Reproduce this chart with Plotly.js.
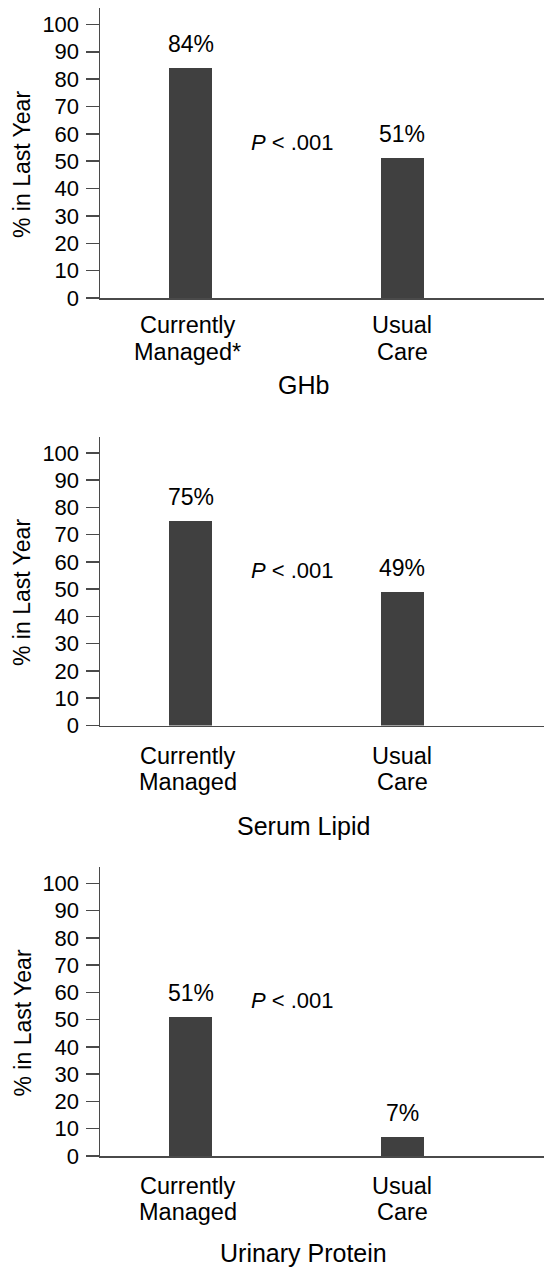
<!DOCTYPE html>
<html>
<head>
<meta charset="utf-8">
<script src="https://cdn.plot.ly/plotly-3.0.1.min.js"></script>
<style>html,body{margin:0;padding:0;background:#fff;overflow:hidden;}#chart{width:544px;height:1267px;}</style>
</head>
<body>
<div id="chart"></div>
<script>
// ---- data ----
const categories = ['Currently Managed', 'Usual Care'];
const tickLinesFirst = [['Currently', 'Managed*'], ['Usual', 'Care']];
const tickLinesOther = [['Currently', 'Managed'], ['Usual', 'Care']];
const panelTitles = ['GHb', 'Serum Lipid', 'Urinary Protein'];
const yAxisTitle = '% in Last Year';
const ghbValues = [84, 51];
const serumLipidValues = [75, 49];
const urinaryProteinValues = [51, 7];
const pValueText = '<i>P</i> < .001';
const pValueY = 57;
const yTickValues = [0, 10, 20, 30, 40, 50, 60, 70, 80, 90, 100];

// ---- styling / layout ----
const W = 544, H = 1267;
const FONT = 'Liberation Sans, Arial, Helvetica, sans-serif';
const BAR = '#404040';
const AX = '#4a4a4a';
const panels = [
  {values: ghbValues, ticks: tickLinesFirst, bottomPx: 298, topPx: 8, titlePx: 384.5, line1: 27.5, line2: 53.5, yTitleShift: 12},
  {values: serumLipidValues, ticks: tickLinesOther, bottomPx: 725.5, topPx: 436.5, titlePx: 826, line1: 30, line2: 56, yTitleShift: 12},
  {values: urinaryProteinValues, ticks: tickLinesOther, bottomPx: 1156, topPx: 867, titlePx: 1252.5, line1: 30, line2: 56, yTitleShift: 12}
];
const xDomain = [100 / W, 1];
const xRange = [-0.4276, 1.668];

const traces = [];
const annotations = [];
const layout = {
  width: W, height: H,
  margin: {l: 0, r: 0, t: 0, b: 0},
  paper_bgcolor: '#fff', plot_bgcolor: '#fff',
  showlegend: false,
  font: {family: FONT, color: '#000', size: 21},
  bargap: 0
};

panels.forEach((p, i) => {
  const n = i === 0 ? '' : String(i + 1);
  traces.push({
    type: 'bar',
    x: categories,
    y: p.values,
    width: 0.204,
    marker: {color: BAR, line: {width: 0}},
    xaxis: 'x' + n, yaxis: 'y' + n,
    hoverinfo: 'skip'
  });
  layout['xaxis' + n] = {
    domain: xDomain,
    anchor: 'y' + n,
    type: 'category',
    categoryarray: categories,
    range: xRange,
    showticklabels: false,
    ticks: '',
    showline: true, linecolor: AX, linewidth: 1.5,
    showgrid: false, zeroline: false,
    fixedrange: true
  };
  layout['yaxis' + n] = {
    domain: [1 - p.bottomPx / H, 1 - p.topPx / H],
    anchor: 'x' + n,
    range: [0, 106],
    tickvals: yTickValues,
    ticktext: yTickValues.map(String),
    ticks: 'outside', ticklen: 13, tickwidth: 1.5, tickcolor: AX,
    showline: true, linecolor: AX, linewidth: 1.5,
    showgrid: false, zeroline: false,
    tickfont: {family: FONT, size: 22, color: '#000'},
    ticklabelstandoff: 2,
    fixedrange: true
  };
  // y axis title (slightly below the domain centre, as in the source)
  annotations.push({
    xref: 'paper', yref: 'paper',
    x: 22 / W, y: 1 - ((p.bottomPx + p.topPx) / 2 + p.yTitleShift) / H,
    text: yAxisTitle, textangle: -90,
    showarrow: false, xanchor: 'center', yanchor: 'middle',
    font: {family: FONT, size: 23, color: '#000'}
  });
  // category labels (two lines each)
  categories.forEach((c, j) => {
    p.ticks[j].forEach((line, k) => {
      annotations.push({
        xref: 'x' + n, yref: 'paper',
        x: c, y: 1 - (p.bottomPx + (k === 0 ? p.line1 : p.line2)) / H,
        xshift: j === 0 ? -3 : 0,
        text: line,
        showarrow: false, xanchor: 'center', yanchor: 'middle',
        font: {family: FONT, size: 23.5, color: '#000'}
      });
    });
  });
  // value labels
  p.values.forEach((v, j) => {
    annotations.push({
      xref: 'x' + n, yref: 'y' + n,
      x: categories[j], y: v,
      text: v + '%',
      showarrow: false,
      yanchor: 'bottom',
      yshift: 9,
      font: {family: FONT, size: 23, color: '#000'}
    });
  });
  // p value
  annotations.push({
    xref: 'x' + n, yref: 'y' + n,
    x: 0.483, y: pValueY,
    text: pValueText,
    showarrow: false,
    xanchor: 'center', yanchor: 'middle',
    font: {family: FONT, size: 22, color: '#000'}
  });
  // panel title
  annotations.push({
    xref: 'paper', yref: 'paper',
    x: 303 / W, y: 1 - p.titlePx / H,
    text: panelTitles[i],
    showarrow: false,
    xanchor: 'center', yanchor: 'middle',
    font: {family: FONT, size: 25, color: '#000'}
  });
});
layout.annotations = annotations;

Plotly.newPlot('chart', traces, layout, {displayModeBar: false, staticPlot: true});
</script>
</body>
</html>
